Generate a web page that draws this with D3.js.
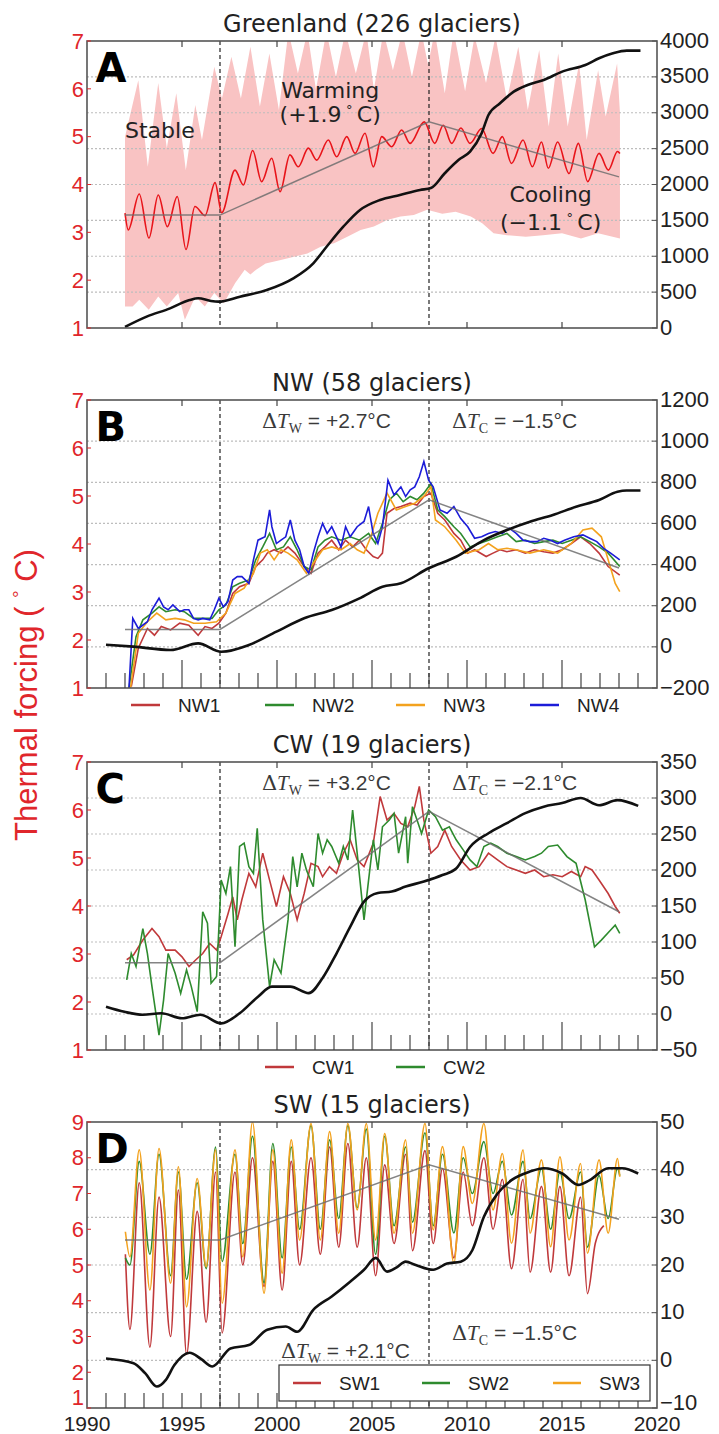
<!DOCTYPE html>
<html>
<head>
<meta charset="utf-8">
<script src="https://cdn.jsdelivr.net/npm/d3@7"></script>
<style>
  body { margin: 0; background: #fff; }
  svg { display: block; }
</style>
</head>
<body>
<div id="chart"></div>
<script>
// ---- data ([year, value]) ----
const breakYears = [1997, 2008];
const yearLabels = [1990, 1995, 2000, 2005, 2010, 2015, 2020];
const majorYears = [1995, 2000, 2005, 2010, 2015];
const tfTicks7 = [1, 2, 3, 4, 5, 6, 7];
const tfTicks9 = [1, 2, 3, 4, 5, 6, 7, 8, 9];
const aRightTicks = [0, 500, 1000, 1500, 2000, 2500, 3000, 3500, 4000];
const bRightTicks = [-200, 0, 200, 400, 600, 800, 1000, 1200];
const cRightTicks = [-50, 0, 50, 100, 150, 200, 250, 300, 350];
const dRightTicks = [-10, 0, 10, 20, 30, 40, 50];

// A: Greenland mean thermal forcing, its spread, discharge and trend
const greenlandMean = [[1992.0,3.40],[1992.17,3.05],[1992.75,3.80],[1993.26,2.88],[1993.75,3.78],[1994.23,3.12],[1994.75,3.75],[1995.21,2.64],[1995.68,3.54],[1996.21,3.35],[1996.74,4.04],[1997.09,3.41],[1997.79,4.30],[1998.23,3.99],[1998.72,4.71],[1999.19,4.06],[1999.72,4.55],[2000.16,3.85],[2000.68,4.62],[2001.12,4.37],[2001.65,4.76],[2002.09,4.51],[2002.70,4.93],[2003.14,4.58],[2003.67,5.00],[2004.11,4.65],[2004.63,5.07],[2005.07,4.37],[2005.51,5.00],[2006.04,4.79],[2006.56,5.14],[2007.0,4.86],[2007.75,5.31],[2008.3,4.86],[2008.75,5.24],[2009.19,4.86],[2009.68,5.18],[2010.16,4.86],[2010.77,5.17],[2011.37,4.65],[2011.86,5.0],[2012.34,4.44],[2012.95,4.93],[2013.44,4.37],[2013.92,4.89],[2014.28,4.34],[2014.77,4.89],[2015.37,4.23],[2015.86,4.86],[2016.35,4.06],[2016.95,4.65],[2017.44,4.30],[2017.92,4.69],[2018.05,4.65]];
const greenlandUpper = [[1992.0,5.0],[1992.7,6.18],[1993.2,4.37],[1993.75,6.12],[1994.2,4.76],[1994.7,5.91],[1995.2,4.30],[1995.7,5.66],[1996.05,4.93],[1996.7,6.46],[1997.1,5.80],[1997.6,6.67],[1998.1,5.80],[1998.6,6.88],[1999.1,5.63],[1999.6,6.74],[2000.1,5.56],[2000.6,7.2],[2001.1,6.32],[2001.6,7.2],[2002.05,5.98],[2002.6,7.2],[2003.1,6.25],[2003.6,7.2],[2004.15,6.32],[2004.7,7.2],[2005.1,5.98],[2005.6,7.2],[2006.1,6.39],[2006.6,7.2],[2007.1,6.25],[2007.6,7.2],[2007.95,6.5],[2008.3,7.2],[2008.83,5.91],[2009.3,7.2],[2009.9,5.95],[2010.4,7.1],[2011.0,6.12],[2011.5,7.1],[2012.1,5.77],[2012.7,6.88],[2013.2,5.56],[2013.8,6.81],[2014.3,5.21],[2014.8,6.74],[2015.3,5.21],[2015.9,6.53],[2016.3,4.93],[2016.9,6.39],[2017.3,5.42],[2017.9,6.53],[2018.05,5.5]];
const greenlandLower = [[1992.0,1.45],[1992.4,1.45],[1992.75,1.59],[1993.25,1.38],[1993.75,1.66],[1994.2,1.45],[1994.8,1.73],[1995.15,1.17],[1995.7,1.66],[1996.2,1.45],[1996.7,1.73],[1997.2,1.52],[1997.8,1.94],[1998.3,2.22],[1998.6,2.12],[1998.9,2.22],[1999.4,2.35],[2000.2,2.42],[2000.9,2.49],[2001.6,2.56],[2002.3,2.70],[2003.0,2.77],[2003.7,2.91],[2004.4,3.05],[2005.1,3.12],[2005.8,3.26],[2006.5,3.33],[2007.2,3.36],[2007.9,3.47],[2008.7,3.39],[2009.4,3.43],[2010.2,3.33],[2010.8,3.19],[2011.4,2.98],[2012.1,2.94],[2013.1,2.91],[2014.0,2.94],[2015.0,2.98],[2016.0,2.87],[2016.9,2.98],[2018.05,2.87]];
const greenlandDischarge = [[1992.0,15],[1993.14,158],[1994.37,274],[1995.4,390],[1995.86,414],[1996.47,380],[1996.91,367],[1998.05,437],[1999.46,530],[2000.86,693],[2001.91,902],[2002.61,1133],[2003.49,1412],[2004.37,1645],[2005.42,1784],[2006.47,1854],[2007.53,1924],[2008.1,1950],[2008.83,2157],[2009.55,2342],[2010.16,2458],[2010.77,2714],[2011.13,2969],[2011.74,3132],[2012.46,3294],[2013.19,3387],[2014.04,3457],[2015.01,3573],[2016.23,3666],[2016.95,3759],[2017.68,3829],[2018.41,3866],[2019.13,3866]];
const greenlandTrend = [[1992,3.36],[1997,3.36],[2008,5.31],[2018,4.16]];

// B: NW
const nw1 = [[1992.33,1.03],[1992.70,1.83],[1993.18,2.24],[1993.55,2.10],[1993.91,2.28],[1994.40,2.21],[1994.88,2.35],[1995.36,2.31],[1995.85,2.10],[1996.21,2.28],[1996.58,2.24],[1996.94,2.35],[1997.31,2.56],[1997.67,2.97],[1998.03,3.11],[1998.52,3.18],[1998.88,3.53],[1999.25,3.67],[1999.49,3.81],[1999.85,3.88],[2000.21,3.81],[2000.58,3.94],[2000.94,3.81],[2001.43,3.53],[2001.79,3.39],[2002.16,3.81],[2002.52,3.94],[2002.88,4.08],[2003.25,3.88],[2003.61,4.08],[2003.98,3.94],[2004.34,4.08],[2004.70,3.88],[2005.06,3.74],[2005.31,3.70],[2005.55,3.81],[2005.79,4.64],[2006.16,4.74],[2006.52,4.78],[2007.01,4.85],[2007.37,4.81],[2007.73,4.99],[2008.10,5.06],[2008.46,4.64],[2008.83,4.50],[2009.31,4.22],[2009.67,4.08],[2010.04,3.81],[2010.40,3.88],[2011.01,3.74],[2011.37,3.81],[2011.74,3.88],[2012.10,3.84],[2012.59,3.88],[2013.07,3.81],[2013.56,3.88],[2014.04,3.84],[2014.52,3.81],[2015.01,3.88],[2015.49,4.01],[2015.98,4.15],[2016.46,4.01],[2016.95,3.81],[2017.43,3.53],[2018.04,3.35]];
const nw2 = [[1992.21,1.0],[1992.58,2.07],[1992.94,2.42],[1993.42,2.56],[1993.79,2.69],[1994.15,2.59],[1994.64,2.63],[1995.12,2.59],[1995.61,2.45],[1996.09,2.45],[1996.58,2.45],[1996.94,2.63],[1997.31,2.73],[1997.67,3.11],[1998.03,3.18],[1998.52,3.25],[1998.88,3.67],[1999.25,3.94],[1999.61,4.22],[1999.97,3.88],[2000.34,3.94],[2000.70,4.15],[2001.06,3.88],[2001.43,3.53],[2001.79,3.46],[2002.16,3.94],[2002.52,4.08],[2002.88,4.15],[2003.37,4.08],[2003.85,4.15],[2004.34,4.08],[2004.82,4.22],[2005.19,4.01],[2005.55,4.43],[2005.91,4.92],[2006.28,5.06],[2006.64,4.88],[2007.01,4.99],[2007.37,4.92],[2007.73,5.06],[2008.10,5.26],[2008.46,4.71],[2008.83,4.57],[2009.31,4.36],[2009.67,4.22],[2010.16,3.94],[2010.64,4.01],[2011.13,4.08],[2011.61,4.15],[2012.10,4.22],[2012.59,4.05],[2013.07,4.08],[2013.56,4.01],[2014.04,4.05],[2014.52,4.08],[2015.01,4.01],[2015.49,4.08],[2015.98,4.15],[2016.46,4.05],[2016.95,3.94],[2017.43,3.81],[2018.04,3.53]];
const nw3 = [[1992.29,1.0],[1992.70,2.14],[1993.18,2.38],[1993.67,2.56],[1994.15,2.42],[1994.64,2.45],[1995.12,2.42],[1995.61,2.35],[1996.21,2.35],[1996.82,2.38],[1997.31,2.56],[1997.79,2.97],[1998.27,3.08],[1998.76,3.39],[1999.12,3.81],[1999.49,3.88],[1999.85,3.67],[2000.21,3.88],[2000.58,3.81],[2001.06,3.67],[2001.55,3.39],[2001.91,3.60],[2002.40,3.88],[2002.88,3.94],[2003.37,3.88],[2003.85,4.01],[2004.22,3.88],[2004.58,3.81],[2004.94,4.15],[2005.31,4.64],[2005.79,5.06],[2006.28,4.71],[2006.77,4.78],[2007.25,4.85],[2007.73,4.99],[2008.10,5.19],[2008.34,4.50],[2008.83,4.36],[2009.43,4.08],[2009.92,3.81],[2010.64,3.88],[2011.13,4.01],[2011.61,3.88],[2012.10,3.91],[2012.59,3.88],[2013.31,3.81],[2014.04,3.88],[2014.77,3.81],[2015.49,4.01],[2016.10,4.29],[2016.58,4.33],[2017.07,4.15],[2017.43,3.67],[2017.80,3.18],[2018.04,3.01]];
const nw4 = [[1992.21,1.0],[1992.41,2.45],[1992.70,2.24],[1993.18,2.38],[1993.42,2.63],[1993.79,2.87],[1994.03,2.69],[1994.27,2.63],[1994.52,2.73],[1994.88,2.59],[1995.12,2.63],[1995.36,2.63],[1995.61,2.45],[1995.85,2.42],[1996.09,2.45],[1996.46,2.42],[1996.70,2.63],[1996.94,2.87],[1997.18,2.69],[1997.42,2.80],[1997.67,3.25],[1997.91,3.32],[1998.15,3.32],[1998.52,3.18],[1998.76,3.67],[1999.0,4.08],[1999.37,4.15],[1999.61,4.71],[1999.73,4.36],[1999.97,4.01],[2000.21,4.08],[2000.46,4.15],[2000.70,4.50],[2000.94,4.08],[2001.19,3.88],[2001.43,3.53],[2001.67,3.39],[2001.91,3.81],[2002.16,4.15],[2002.40,4.43],[2002.64,4.22],[2002.88,4.36],[2003.13,4.15],[2003.37,3.94],[2003.61,4.36],[2003.85,4.15],[2004.22,4.36],[2004.58,4.47],[2004.82,4.78],[2005.06,4.22],[2005.31,4.01],[2005.55,4.36],[2005.84,5.33],[2006.16,5.02],[2006.52,5.19],[2006.77,4.99],[2007.01,5.13],[2007.25,5.19],[2007.49,5.40],[2007.73,5.72],[2007.98,5.33],[2008.22,5.19],[2008.58,4.71],[2008.95,4.64],[2009.31,4.78],[2009.67,4.53],[2010.04,4.36],[2010.40,4.12],[2010.77,4.15],[2011.13,4.22],[2011.49,4.26],[2011.86,4.22],[2012.22,4.33],[2012.59,4.22],[2012.95,4.08],[2013.31,4.05],[2013.68,4.05],[2014.04,4.12],[2014.40,4.08],[2014.77,4.01],[2015.13,4.08],[2015.62,4.15],[2016.10,4.19],[2016.46,4.12],[2016.83,4.05],[2017.19,3.91],[2017.56,3.81],[2018.04,3.67]];
const nwDischarge = [[1991.0,10],[1992.45,1],[1994.4,-15],[1995.85,17],[1997.07,-24],[1998.52,9],[1999.97,74],[2001.43,139],[2002.88,179],[2004.34,236],[2005.55,292],[2006.52,309],[2007.98,382],[2009.43,438],[2010.89,519],[2012.10,568],[2013.31,608],[2014.52,641],[2015.74,681],[2016.95,714],[2017.92,754],[2018.4,760],[2019.13,760]];
const nwTrend = [[1992,2.22],[1997,2.22],[2008,4.92],[2018,3.5]];

// C: CW
const cw1 = [[1992.09,2.88],[1992.45,2.98],[1992.94,3.29],[1993.42,3.53],[1993.79,3.36],[1994.15,3.08],[1994.64,3.08],[1995.0,2.94],[1995.37,2.74],[1995.73,2.88],[1996.09,3.01],[1996.46,3.22],[1996.82,3.08],[1997.06,3.36],[1997.43,3.85],[1997.67,4.19],[1997.91,3.71],[1998.15,4.13],[1998.52,4.68],[1998.88,4.40],[1999.25,5.10],[1999.61,4.54],[1999.97,3.99],[2000.34,4.61],[2000.70,4.26],[2001.06,3.71],[2001.43,4.26],[2001.79,4.89],[2002.16,4.82],[2002.40,4.61],[2002.76,4.82],[2003.13,4.68],[2003.49,5.10],[2003.85,5.38],[2004.22,4.96],[2004.58,4.82],[2005.07,5.31],[2005.43,6.28],[2005.79,5.79],[2006.16,5.93],[2006.52,5.72],[2006.88,5.65],[2007.25,6.07],[2007.49,6.49],[2007.73,5.79],[2008.10,5.10],[2008.46,5.24],[2008.83,5.58],[2009.19,5.24],[2009.67,4.96],[2010.16,4.75],[2010.64,4.82],[2011.13,5.10],[2011.61,4.96],[2012.10,4.82],[2012.59,4.75],[2013.07,4.68],[2013.56,4.75],[2014.04,4.61],[2014.52,4.65],[2015.01,4.61],[2015.49,4.72],[2015.98,4.61],[2016.22,4.82],[2016.58,4.75],[2016.95,4.54],[2017.43,4.26],[2017.80,3.99],[2018.04,3.85]];
const cw2 = [[1992.09,2.46],[1992.33,3.01],[1992.58,2.74],[1992.94,3.53],[1993.18,3.01],[1993.42,2.32],[1993.79,1.31],[1994.03,2.04],[1994.27,3.01],[1994.64,2.60],[1994.93,2.18],[1995.24,2.67],[1995.49,2.32],[1995.80,1.80],[1996.09,3.88],[1996.34,3.64],[1996.53,2.39],[1996.82,2.53],[1997.06,4.54],[1997.31,4.26],[1997.55,4.82],[1997.79,3.15],[1998.03,5.24],[1998.27,5.31],[1998.52,4.82],[1998.76,4.68],[1998.96,5.62],[1999.25,3.71],[1999.61,2.32],[1999.85,2.88],[2000.21,2.60],[2000.58,3.71],[2000.83,5.03],[2001.06,4.40],[2001.31,5.10],[2001.55,4.75],[2001.91,4.40],[2002.16,5.51],[2002.40,5.10],[2002.64,5.38],[2002.88,5.24],[2003.25,4.89],[2003.49,5.24],[2003.73,4.96],[2003.98,6.0],[2004.22,5.10],[2004.58,3.71],[2004.82,4.54],[2005.07,5.38],[2005.31,4.75],[2005.55,5.65],[2005.91,5.79],[2006.16,5.93],[2006.40,5.10],[2006.77,5.86],[2006.88,4.89],[2007.13,6.07],[2007.37,5.79],[2007.61,5.51],[2007.98,6.0],[2008.34,5.86],[2008.71,5.58],[2009.07,5.65],[2009.43,5.38],[2009.80,5.17],[2010.16,4.96],[2010.52,4.82],[2010.89,5.24],[2011.25,5.31],[2011.61,5.24],[2012.10,5.10],[2012.59,5.03],[2013.07,4.96],[2013.56,5.03],[2013.92,5.10],[2014.28,5.24],[2014.77,5.27],[2015.26,5.03],[2015.74,4.89],[2016.22,4.13],[2016.71,3.15],[2017.07,3.29],[2017.56,3.50],[2017.80,3.60],[2018.04,3.43]];
const cwDischarge = [[1991.0,10],[1991.97,3],[1992.94,-1],[1993.91,1],[1995.0,-6],[1995.97,-1],[1997.06,-13],[1998.03,1],[1999.0,24],[1999.73,38],[2000.70,38],[2001.67,29],[2002.40,50],[2003.13,84],[2003.85,121],[2004.58,156],[2005.31,168],[2006.04,170],[2006.77,177],[2007.73,184],[2008.71,193],[2009.43,202],[2010.16,232],[2011.13,251],[2012.10,265],[2013.07,279],[2014.04,288],[2015.01,293],[2015.98,300],[2016.95,290],[2017.92,297],[2019.01,289]];
const cwTrend = [[1992,2.82],[1997,2.82],[2008,5.97],[2018,3.88]];

// D: SW
const sw1 = [[1992.02,5.3],[1992.26,3.2],[1992.75,7.3],[1993.31,2.7],[1993.79,6.9],[1994.40,3.0],[1994.81,7.1],[1995.24,2.5],[1995.80,6.5],[1996.27,3.4],[1996.77,7.6],[1997.11,3.1],[1997.79,7.6],[1998.20,5.0],[1998.71,8.0],[1999.32,4.4],[1999.78,7.9],[2000.27,4.3],[2000.75,7.9],[2001.19,5.0],[2001.79,8.0],[2002.28,5.3],[2002.77,8.3],[2003.25,5.5],[2003.73,8.4],[2004.22,5.5],[2004.70,8.0],[2005.19,4.7],[2005.67,7.8],[2006.16,5.6],[2006.77,8.1],[2007.13,5.4],[2007.79,8.2],[2008.22,5.6],[2008.71,7.7],[2009.31,5.2],[2009.80,7.6],[2010.28,6.1],[2010.89,8.0],[2011.37,6.0],[2011.86,7.4],[2012.34,4.9],[2012.95,7.4],[2013.32,4.8],[2013.92,7.2],[2014.40,4.8],[2014.89,7.2],[2015.37,4.7],[2015.98,6.9],[2016.34,4.2],[2016.75,5.6],[2017.2,6.1]];
const sw2 = [[1992.02,5.2],[1992.26,5.0],[1992.75,7.9],[1993.31,5.3],[1993.79,8.1],[1994.40,4.7],[1994.81,7.6],[1995.24,4.6],[1995.80,7.3],[1996.27,4.9],[1996.77,8.3],[1997.11,5.1],[1997.79,8.1],[1998.20,5.6],[1998.71,8.6],[1999.32,4.5],[1999.78,8.4],[2000.27,5.2],[2000.75,8.3],[2001.19,6.0],[2001.79,8.9],[2002.28,6.0],[2002.77,8.5],[2003.25,6.3],[2003.73,8.9],[2004.22,6.6],[2004.70,8.8],[2005.19,5.3],[2005.67,8.6],[2006.16,6.1],[2006.77,8.3],[2007.13,6.2],[2007.79,8.7],[2008.22,6.1],[2008.71,8.1],[2009.31,5.9],[2009.80,8.0],[2010.28,7.0],[2010.89,8.45],[2011.37,7.0],[2011.86,7.9],[2012.34,6.4],[2012.95,7.9],[2013.32,6.3],[2013.92,7.7],[2014.40,6.0],[2014.89,7.6],[2015.37,6.3],[2015.98,7.6],[2016.34,5.5],[2016.95,7.5],[2017.43,6.3],[2017.92,7.7],[2018.04,7.5]];
const sw3 = [[1992.02,5.93],[1992.26,5.23],[1992.75,8.22],[1993.31,4.30],[1993.79,8.26],[1994.40,4.49],[1994.81,7.75],[1995.24,3.83],[1995.80,7.42],[1996.27,4.95],[1996.77,8.22],[1997.11,3.93],[1997.79,8.22],[1998.20,5.23],[1998.71,9.0],[1999.32,4.21],[1999.78,8.22],[2000.27,4.77],[2000.75,8.50],[2001.19,5.70],[2001.79,8.96],[2002.28,5.70],[2002.77,8.73],[2003.25,5.89],[2003.73,8.96],[2004.22,6.54],[2004.70,8.96],[2005.19,5.70],[2005.67,8.68],[2006.16,5.89],[2006.77,8.50],[2007.13,5.89],[2007.79,8.96],[2008.22,5.98],[2008.71,8.31],[2009.31,5.05],[2009.80,8.31],[2010.28,6.72],[2010.89,8.96],[2011.37,6.54],[2011.86,8.12],[2012.34,5.61],[2012.95,8.22],[2013.32,5.89],[2013.92,7.94],[2014.40,5.51],[2014.89,8.03],[2015.37,5.70],[2015.98,7.84],[2016.34,5.33],[2016.95,7.94],[2017.43,5.89],[2017.92,7.98],[2018.04,7.47]];
const swDischarge = [[1991.0,0.4],[1992.45,-0.6],[1993.06,-2.7],[1993.67,-5.5],[1994.15,-4.1],[1994.6,-1.0],[1995.4,1.6],[1996.0,0.3],[1996.6,-1.3],[1997.55,2.5],[1998.52,3.2],[1999.49,6.4],[2000.46,7.1],[2001.06,6.0],[2001.91,10.6],[2002.88,13.4],[2003.85,16.5],[2004.58,19.0],[2005.2,21.5],[2005.79,18.6],[2006.3,19.5],[2006.77,20.7],[2007.3,20.0],[2008.22,19.0],[2008.95,20.3],[2009.67,20.7],[2010.28,23.1],[2010.89,30.1],[2011.61,35.0],[2012.34,37.8],[2013.31,39.6],[2014.04,40.3],[2015.01,39.2],[2015.86,36.8],[2016.46,37.8],[2017.43,40.3],[2018.16,40.3],[2019.01,39.2]];
const swTrend = [[1992,5.7],[1997,5.7],[2008,7.8],[2018,6.28]];

// ---- drawing ----
const RED = "#e0262b", C1 = "#c0393b", C2 = "#2e8b2e", C3 = "#f3a21e", C4 = "#1c1cd8";
const SANS = "Liberation Sans, Arial, sans-serif";
const DEJAVU = "DejaVu Sans, sans-serif";

const svg = d3.select("#chart").append("svg").attr("width", 719).attr("height", 1434);
const x = d3.scaleLinear().domain([1990, 2020]).range([87, 657]);

const panels = [
  {id: "A", title: "Greenland (226 glaciers)", top: 41, bottom: 328, left: [1, 7], leftTicks: tfTicks7, right: [0, 4000], rightTicks: aRightTicks, yearly: null,
   series: [], black: greenlandDischarge, trend: greenlandTrend},
  {id: "B", title: "NW (58 glaciers)", top: 400, bottom: 688, left: [1, 7], leftTicks: tfTicks7, right: [-200, 1200], rightTicks: bRightTicks, yearly: "long",
   series: [[nw1, C1, "NW1"], [nw2, C2, "NW2"], [nw3, C3, "NW3"], [nw4, C4, "NW4"]], black: nwDischarge, trend: nwTrend, dW: "+2.7", dC: "\u22121.5"},
  {id: "C", title: "CW (19 glaciers)", top: 762, bottom: 1050, left: [1, 7], leftTicks: tfTicks7, right: [-50, 350], rightTicks: cRightTicks, yearly: "long",
   series: [[cw1, C1, "CW1"], [cw2, C2, "CW2"]], black: cwDischarge, trend: cwTrend, dW: "+3.2", dC: "\u22122.1"},
  {id: "D", title: "SW (15 glaciers)", top: 1122, bottom: 1408, left: [1, 9], leftTicks: tfTicks9, right: [-10, 50], rightTicks: dRightTicks, yearly: "short",
   series: [[sw1, C1, "SW1"], [sw2, C2, "SW2"], [sw3, C3, "SW3"]], black: swDischarge, trend: swTrend, dW: "+2.1", dC: "\u22121.5", smooth: true}
];

const fmt = v => v < 0 ? "\u2212" + Math.abs(v) : String(v);

panels.forEach(p => {
  const yL = d3.scaleLinear().domain(p.left).range([p.bottom, p.top]);
  const yR = d3.scaleLinear().domain(p.right).range([p.bottom, p.top]);
  const g = svg.append("g");
  const clipId = "clip" + p.id;
  g.append("clipPath").attr("id", clipId).append("rect")
    .attr("x", x(1990)).attr("y", p.top).attr("width", x(2020) - x(1990)).attr("height", p.bottom - p.top);
  const plot = g.append("g").attr("clip-path", "url(#" + clipId + ")");

  // spread band (A only)
  if (p.id === "A") {
    const band = greenlandUpper.concat(greenlandLower.slice().reverse());
    plot.append("path")
      .attr("d", d3.line().x(d => x(d[0])).y(d => yL(d[1]))(band) + "Z")
      .attr("fill", "#f9c3c3").attr("stroke", "none");
  }

  // dotted grid on right-axis ticks
  plot.selectAll(".grid").data(p.rightTicks.slice(1, -1)).join("line")
    .attr("x1", x(1990)).attr("x2", x(2020))
    .attr("y1", d => yR(d)).attr("y2", d => yR(d))
    .attr("stroke", "#bdbdbd").attr("stroke-width", 1.2).attr("stroke-dasharray", "2,2");

  // period boundaries
  plot.selectAll(".brk").data(breakYears).join("line")
    .attr("x1", d => x(d)).attr("x2", d => x(d))
    .attr("y1", p.top).attr("y2", p.bottom)
    .attr("stroke", "#222").attr("stroke-width", 1.2).attr("stroke-dasharray", "4,3");

  const lineL = d3.line().x(d => x(d[0])).y(d => yL(d[1]));
  const lineR = d3.line().x(d => x(d[0])).y(d => yR(d[1])).curve(d3.curveMonotoneX);

  if (p.id === "A") {
    plot.append("path").attr("d", lineL.curve(d3.curveMonotoneX)(greenlandMean))
      .attr("fill", "none").attr("stroke", "#e8141a").attr("stroke-width", 1.6);
    lineL.curve(d3.curveLinear);
  }

  p.series.forEach(s => {
    plot.append("path")
      .attr("d", (p.smooth ? lineL.curve(d3.curveMonotoneX) : lineL.curve(d3.curveLinear))(s[0]))
      .attr("fill", "none").attr("stroke", s[1]).attr("stroke-width", 1.6);
  });
  lineL.curve(d3.curveLinear);

  // piecewise trend
  plot.append("path").attr("d", lineL(p.trend))
    .attr("fill", "none").attr("stroke", "#6e6e6e").attr("stroke-width", 1.5).attr("stroke-opacity", 0.85);

  // cumulative (right axis)
  plot.append("path").attr("d", lineR(p.black))
    .attr("fill", "none").attr("stroke", "#111").attr("stroke-width", 2.6);

  // frame
  g.append("rect").attr("x", x(1990)).attr("y", p.top)
    .attr("width", x(2020) - x(1990)).attr("height", p.bottom - p.top)
    .attr("fill", "none").attr("stroke", "#555").attr("stroke-width", 1.6);

  // x ticks
  g.selectAll(".tt").data(majorYears).join("line")
    .attr("x1", d => x(d)).attr("x2", d => x(d)).attr("y1", p.top).attr("y2", p.top + 6)
    .attr("stroke", "#444").attr("stroke-width", 1.2);
  if (p.yearly) {
    g.selectAll(".bt").data(d3.range(1991, 2020)).join("line")
      .attr("x1", d => x(d)).attr("x2", d => x(d)).attr("y1", p.bottom)
      .attr("y2", d => p.bottom - (p.yearly === "long" && majorYears.includes(d) ? 28 : 15))
      .attr("stroke", "#444").attr("stroke-width", 1.2);
  } else {
    g.selectAll(".bt").data(majorYears).join("line")
      .attr("x1", d => x(d)).attr("x2", d => x(d)).attr("y1", p.bottom).attr("y2", p.bottom - 6)
      .attr("stroke", "#444").attr("stroke-width", 1.2);
  }

  // left axis (thermal forcing)
  g.selectAll(".lt").data(p.leftTicks).join("line")
    .attr("x1", x(1990)).attr("x2", x(1990) + 4).attr("y1", d => yL(d)).attr("y2", d => yL(d))
    .attr("stroke", RED).attr("stroke-width", 1);
  g.selectAll(".ll").data(p.leftTicks).join("text")
    .attr("x", 84).attr("y", d => yL(d)).attr("dy", d => (p.id === "D" && d === 1) ? "-0.12em" : "0.35em")
    .attr("text-anchor", "end").attr("font-family", SANS).attr("font-size", 22)
    .attr("fill", RED).text(d => d);

  // right axis
  g.selectAll(".rl").data(p.rightTicks).join("text")
    .attr("x", 660).attr("y", d => yR(d)).attr("dy", (d, i) => (p.id === "D" && i === 0) ? "0.1em" : "0.3em")
    .attr("font-family", SANS).attr("font-size", 22).attr("fill", "#222").text(fmt);
  g.selectAll(".rt").data(p.rightTicks).join("line")
    .attr("x1", x(2020) - 5).attr("x2", x(2020)).attr("y1", d => yR(d)).attr("y2", d => yR(d))
    .attr("stroke", "#555").attr("stroke-width", 1);

  // title and panel letter
  g.append("text").attr("x", 372).attr("y", p.top - 9).attr("text-anchor", "middle")
    .attr("font-family", DEJAVU).attr("font-size", 24).attr("fill", "#222").text(p.title);
  g.append("text").attr("x", x(1990.45)).attr("y", p.top + 41)
    .attr("font-family", DEJAVU).attr("font-weight", "bold").attr("font-size", 40).attr("fill", "#000").text(p.id);

  // warming / cooling annotations
  if (p.dW) {
    const yW = p.id === "D" ? 1358 : p.top + 28;
    const yC = p.id === "D" ? 1340 : p.top + 28;
    deltaLabel(g, x(p.id === "D" ? 2003.6 : 2002.6), yW, "W", p.dW);
    deltaLabel(g, x(2012.5), yC, "C", p.dC);
  }

  // legends
  if (p.id === "B" || p.id === "C") {
    const ly = p.bottom + 17;
    const starts = p.id === "B" ? [131, 265, 396, 530] : [265, 396];
    p.series.forEach((s, i) => {
      g.append("line").attr("x1", starts[i]).attr("x2", starts[i] + 29).attr("y1", ly).attr("y2", ly)
        .attr("stroke", s[1]).attr("stroke-width", 2.5);
      g.append("text").attr("x", starts[i] + 47).attr("y", ly).attr("dy", "0.35em")
        .attr("font-family", SANS).attr("font-size", 19).attr("fill", "#222").text(s[2]);
    });
  }
  if (p.id === "D") {
    g.append("rect").attr("x", 279).attr("y", 1365).attr("width", 371).attr("height", 36)
      .attr("fill", "#fff").attr("stroke", "#333").attr("stroke-width", 1.2);
    const starts = [293, 422, 553];
    p.series.forEach((s, i) => {
      g.append("line").attr("x1", starts[i]).attr("x2", starts[i] + 28).attr("y1", 1383).attr("y2", 1383)
        .attr("stroke", s[1]).attr("stroke-width", 2.5);
      g.append("text").attr("x", starts[i] + 46).attr("y", 1383).attr("dy", "0.35em")
        .attr("font-family", SANS).attr("font-size", 19).attr("fill", "#222").text(s[2]);
    });
    // year labels
    g.selectAll(".xl").data(yearLabels).join("text")
      .attr("x", d => x(d)).attr("y", 1431).attr("text-anchor", "middle")
      .attr("font-family", SANS).attr("font-size", 21).attr("fill", "#222").text(d => d);
  }

  if (p.id === "A") {
    const ann = (tx, ty, anchor, parts) => {
      const t = g.append("text").attr("x", x(tx)).attr("y", yL(ty)).attr("text-anchor", anchor)
        .attr("font-family", DEJAVU).attr("font-size", 22).attr("fill", "#222");
      parts(t);
    };
    ann(1992.0, 4.97, "start", t => t.text("Stable"));
    ann(2002.8, 5.80, "middle", t => t.text("Warming"));
    ann(2002.8, 5.30, "middle", t => degree(t, "(+1.9"));
    ann(2014.4, 3.64, "middle", t => t.text("Cooling"));
    ann(2014.4, 3.05, "middle", t => degree(t, "(\u22121.1"));
  }
});

function degree(t, head) {
  t.append("tspan").text(head + "\u2009");
  t.append("tspan").attr("dy", -8).attr("font-size", 13).text("\u00b0");
  t.append("tspan").attr("dy", 8).text("\u2009C)");
}

function deltaLabel(g, cx, cy, sub, val) {
  const t = g.append("text").attr("x", cx).attr("y", cy).attr("text-anchor", "middle")
    .attr("font-size", 21).attr("fill", "#3a3a3a");
  t.append("tspan").attr("font-family", "DejaVu Serif, serif").text("\u0394");
  t.append("tspan").attr("font-family", "Liberation Serif, serif").attr("font-style", "italic").text("T");
  t.append("tspan").attr("font-family", "Liberation Serif, serif").attr("font-size", 14).attr("dy", 5).text(sub);
  t.append("tspan").attr("font-family", SANS).attr("dy", -5).text(" = " + val + "\u00b0C");
}

// shared y label
const yl = svg.append("text").attr("transform", "translate(37,695) rotate(-90)")
  .attr("text-anchor", "middle").attr("font-family", SANS).attr("font-size", 31).attr("fill", RED);
yl.append("tspan").text("Thermal forcing ( ");
yl.append("tspan").attr("dy", -11).attr("font-size", 19).text("\u00b0");
yl.append("tspan").attr("dy", 11).text(" C)");
</script>
</body>
</html>
